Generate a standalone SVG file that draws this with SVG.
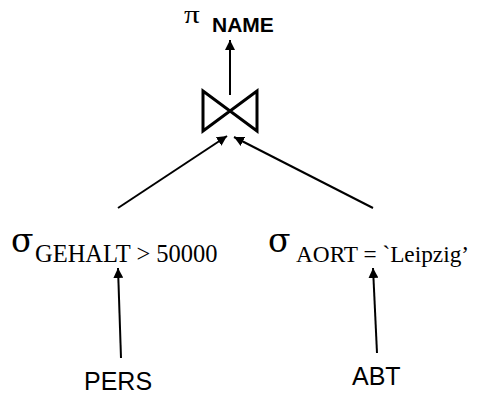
<svg xmlns="http://www.w3.org/2000/svg" width="478" height="394" viewBox="0 0 478 394">
<defs>
<style>
.serif{font-family:"Liberation Serif","Times New Roman",serif;fill:#000}
.greek{font-family:"DejaVu Serif","Liberation Serif",serif;fill:#000}
.sans{font-family:"Liberation Sans",Arial,sans-serif;fill:#000}
.edge{stroke:#000;stroke-width:2;fill:none}
</style>
<marker id="ah" viewBox="0 0 10 10" refX="10" refY="5" markerWidth="5" markerHeight="5" orient="auto" markerUnits="strokeWidth">
<path d="M0,0 L10,5 L0,10 z" fill="#000"/>
</marker>
</defs>
<rect width="478" height="394" fill="#fff"/>
<g id="projection">
<text class="serif" transform="translate(184,23) scale(1.3,1.05)" x="0" y="0" font-size="24">π</text>
<text class="sans" x="212" y="32" font-size="21" font-weight="bold">NAME</text>
</g>
<g id="join">
<path d="M203,91 L203,131 L230,111 Z M257,91 L257,131 L230,111 Z" fill="none" stroke="#000" stroke-width="3" stroke-linejoin="miter"/>
</g>
<g id="select-gehalt">
<text class="greek" x="11" y="252" font-size="33">σ</text>
<text class="serif" x="35" y="262" font-size="24.5">GEHALT &gt; 50000</text>
</g>
<g id="select-aort">
<text class="greek" x="268" y="252" font-size="33">σ</text>
<text class="serif" x="296" y="262" font-size="23.3">AORT = `Leipzig’</text>
</g>
<g id="pers">
<text class="sans" x="84" y="390" font-size="25">PERS</text>
</g>
<g id="abt">
<text class="sans" x="352" y="385" font-size="25">ABT</text>
</g>
<g id="connectors">
<line class="edge" x1="230" y1="95" x2="230" y2="40" marker-end="url(#ah)"/>
<line class="edge" x1="118" y1="208" x2="227" y2="136" marker-end="url(#ah)"/>
<line class="edge" x1="373" y1="208" x2="234" y2="137" marker-end="url(#ah)"/>
<line class="edge" x1="121" y1="358" x2="118" y2="268" marker-end="url(#ah)"/>
<line class="edge" x1="377" y1="353" x2="373" y2="268" marker-end="url(#ah)"/>
</g>
</svg>
